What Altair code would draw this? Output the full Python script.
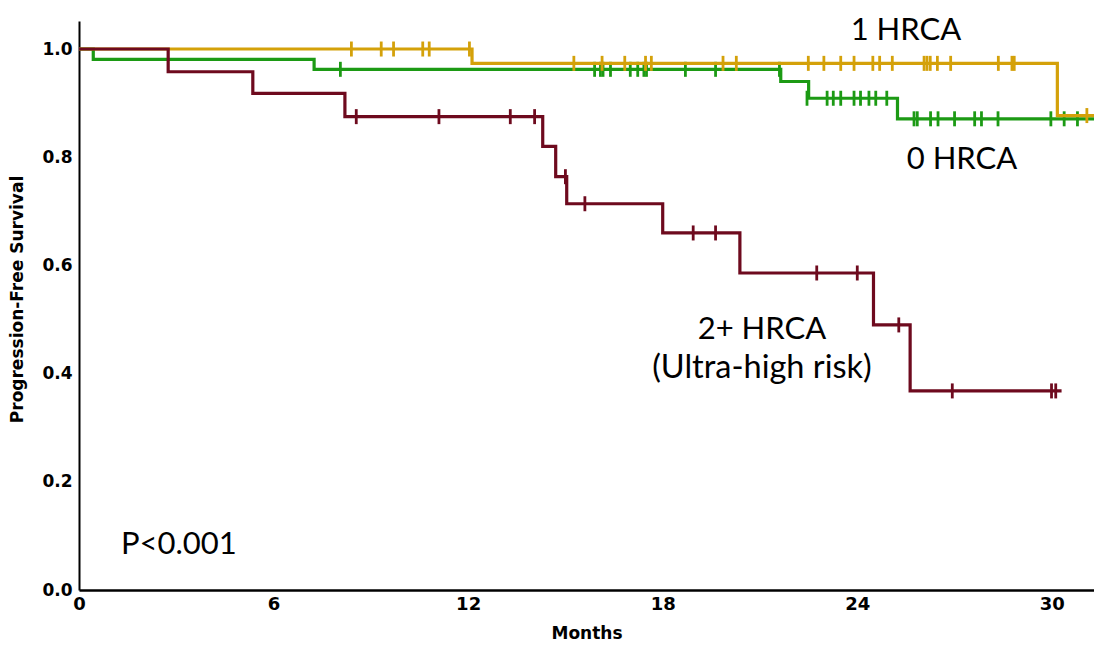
import altair as alt
import pandas as pd

# ---- step curves (time in months, survival) ----
green_t = [0, 0.44, 7.25, 21.64, 22.5, 25.24, 31.3]
green_s = [1.0, 0.981, 0.9625, 0.940, 0.909, 0.871, 0.871]
yellow_t = [0, 12.12, 30.17, 31.3]
yellow_s = [1.0, 0.9735, 0.877, 0.877]
maroon_t = [0, 2.75, 5.36, 8.2, 14.3, 14.7, 15.04, 18.0, 20.38, 24.5, 25.63, 30.3]
maroon_s = [1.0, 0.958, 0.918, 0.875, 0.820, 0.764, 0.714, 0.660, 0.586, 0.490, 0.368, 0.368]

# ---- censor marks ----
green_c_t = [8.06, 15.9, 16.08, 16.16, 16.39, 17.0, 17.23, 17.42, 17.5, 18.7, 19.63, 21.6,
             22.45, 23.07, 23.26, 23.49, 23.9, 24.1, 24.36, 24.57, 24.91,
             25.75, 25.85, 26.26, 26.49, 27.0, 27.62, 27.83, 28.34, 29.97, 30.38, 30.79]
green_c_s = [0.9625] * 12 + [0.909] * 9 + [0.871] * 11
yellow_c_t = [8.4, 9.32, 9.7, 10.6, 10.8, 12.04,
              15.26, 16.13, 16.83, 17.47, 17.65, 19.86, 20.27, 22.49, 22.97, 23.49, 23.9,
              24.48, 24.69, 25.08, 26.06, 26.15, 26.25, 26.47, 26.88, 28.35, 28.77, 28.84,
              31.08]
yellow_c_s = [1.0] * 6 + [0.9735] * 22 + [0.877]
maroon_c_t = [8.55, 11.1, 13.3, 14.05, 15.0, 15.6, 18.94, 19.63, 22.75, 24.0, 25.28,
              26.93, 29.99, 30.12]
maroon_c_s = [0.875, 0.875, 0.875, 0.875, 0.764, 0.714, 0.660, 0.660, 0.586, 0.586, 0.490,
              0.368, 0.368, 0.368]

# ---- annotations ----
ann_text = ["1 HRCA", "0 HRCA", "2+ HRCA", "P<0.001"]
ann_x = [25.5, 27.23, 21.06, 3.08]
ann_y = [1.033, 0.795, 0.481, 0.083]
ann2_text = ["(Ultra-high risk)"]
ann2_x = [21.06]
ann2_y = [0.411]

x_ticks = [0, 6, 12, 18, 24, 30]
y_ticks = [0.0, 0.2, 0.4, 0.6, 0.8, 1.0]

GREEN = "#1C9A14"
GOLD = "#D4A10A"
MAROON = "#6E0A1E"

xs = alt.Scale(domain=[0, 31.3], nice=False, zero=False)
ys = alt.Scale(domain=[0, 1.0518], nice=False)

x_axis = alt.Axis(values=x_ticks, title="Months", grid=False, ticks=False,
                  labelFlush=False, labelFont="DejaVu Sans", labelFontWeight="bold",
                  labelFontSize=18, labelColor="black", labelPadding=5,
                  domainColor="black", domainWidth=2.5,
                  titleFont="DejaVu Sans", titleFontWeight="bold", titleFontSize=17,
                  titleColor="black", titleY=43, titleBaseline="middle")
y_axis = alt.Axis(values=y_ticks, format=".1f", title="Progression-Free Survival",
                  grid=False, ticks=False, labelFont="DejaVu Sans", labelFontWeight="bold",
                  labelFontSize=17, labelColor="black", labelPadding=7,
                  labelOverlap=False, labelFlush=False,
                  domainColor="black", domainWidth=2,
                  titleFont="DejaVu Sans", titleFontWeight="bold", titleFontSize=17,
                  titleColor="black", titleX=-62, titleY=278, titleAngle=270,
                  titleBaseline="middle", titleAlign="center")


def enc(chart, xf, yf):
    return chart.encode(
        x=alt.X(xf, scale=xs, axis=x_axis, title="Months"),
        y=alt.Y(yf, scale=ys, axis=y_axis, title="Progression-Free Survival"),
    )


def curve(t, s, color):
    df = pd.DataFrame({"t": t, "s": s})
    return enc(alt.Chart(df).mark_line(interpolate="step-after", color=color,
                                       strokeWidth=3.2, clip=True), "t:Q", "s:Q")


def censors(t, s, color):
    df = pd.DataFrame({"t": t, "s": s})
    return enc(alt.Chart(df).mark_tick(orient="vertical", size=15, thickness=2.8,
                                       color=color, opacity=1, clip=True), "t:Q", "s:Q")


def labels(tx, xx, yy, size):
    df = pd.DataFrame({"x": xx, "y": yy, "text": tx})
    return enc(alt.Chart(df).mark_text(font="Lato", fontSize=size, color="black",
                                       align="center", baseline="middle"),
               "x:Q", "y:Q").encode(text="text:N")


chart = alt.layer(
    curve(green_t, green_s, GREEN),
    censors(green_c_t, green_c_s, GREEN),
    curve(yellow_t, yellow_s, GOLD),
    censors(yellow_c_t, yellow_c_s, GOLD),
    curve(maroon_t, maroon_s, MAROON),
    censors(maroon_c_t, maroon_c_s, MAROON),
    labels(ann_text, ann_x, ann_y, 31),
    labels(ann2_text, ann2_x, ann2_y, 32.5),
).properties(
    width=1015, height=569,
    padding={"left": 71, "top": 13, "right": 0, "bottom": 55},
    autosize=alt.AutoSizeParams(type="none"),
    background="white",
).configure_view(stroke=None)

chart.save("out.html", embed_options={"renderer": "svg", "actions": False})
